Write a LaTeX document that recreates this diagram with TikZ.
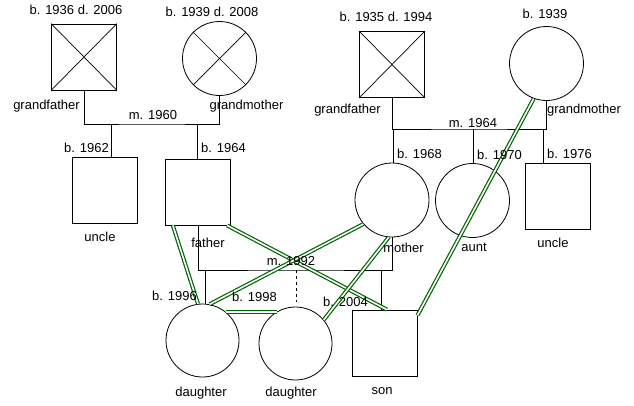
\documentclass[tikz,border=0pt]{standalone}
\usepackage{fontspec}
\setmainfont{Liberation Sans}
\usetikzlibrary{calc}
\definecolor{relgreen}{RGB}{0,100,0}
\begin{document}
\begin{tikzpicture}[x=1pt,y=-1pt,
  male/.style={draw, rectangle, minimum width=65pt, minimum height=66pt, inner sep=0pt, line width=0.8pt},
  female/.style={draw, circle, minimum size=74pt, inner sep=0pt, line width=0.8pt},
  lbl/.style={font=\fontsize{13}{15}\selectfont, inner sep=0pt},
  kin/.style={draw=black, line width=0.8pt},
  xmark/.style={draw=black, line width=0.7pt},
  close/.style={draw=relgreen, line width=1.2pt, double=white, double distance=1.6pt}]
\fill[white] (0,0) rectangle (634,405);
\useasboundingbox (0,0) rectangle (634,405);

% persons
\node[male] (gf1) at (84,57) {};
\node[female] (gm1) at (219.5,58.5) {};
\node[male] (gf2) at (392,64.5) {};
\node[female] (gm2) at (546.5,63.5) {};
\node[male] (uncleA) at (104.5,190) {};
\node[male] (father) at (198,192) {};
\node[female] (mother) at (392,200) {};
\node[female] (aunt) at (472.5,200.5) {};
\node[male] (uncleB) at (558,196) {};
\node[female, minimum size=73pt] (d1) at (202.5,340.5) {};
\node[female, minimum size=73pt] (d2) at (295.5,343.5) {};
\node[male] (son) at (384.5,343) {};

% deceased crosses
\draw[xmark] (gf1.north west) -- (gf1.south east) (gf1.north east) -- (gf1.south west);
\draw[xmark] (gm1.north west) -- (gm1.south east) (gm1.north east) -- (gm1.south west);
\draw[xmark] (gf2.north west) -- (gf2.south east) (gf2.north east) -- (gf2.south west);

% marriage 1960
\coordinate (m1) at (152,124);
\draw[kin] (gf1.south) |- (m1) -| (gm1.south);
\coordinate (c1) at (111,124);
\coordinate (c2) at (197,124);
\draw[kin] (c1) -- (c1 |- uncleA.north);
\draw[kin] (c2) -- (c2 |- father.north);

% marriage 1964
\coordinate (m2) at (469,129);
\draw[kin] (gf2.south) |- (m2) -| (gm2.south);
\coordinate (c3) at (393,129);
\coordinate (c4) at (473,129);
\coordinate (c5) at (543,129);
\draw[kin] (c3) -- (c3 |- mother.north);
\draw[kin] (c4) -- (c4 |- aunt.north);
\draw[kin] (c5) -- (c5 |- uncleB.north);

% marriage 1992
\coordinate (m3) at (296,270);
\draw[kin] (father.south) |- (m3) -| (mother.south);
\coordinate (c6) at (205,270);
\coordinate (c7) at (296,270);
\coordinate (c7e) at (296,302);
\coordinate (c8) at (381,270);
\draw[kin] (c6) -- (c6 |- d1.north);
\draw[kin, dashed, dash pattern=on 3pt off 3pt] (c7) -- (c7e);
\draw[kin] (c8) -- (c8 |- son.north);

% close relationships
\draw[close] (gm2.250) -- (son.40);
\draw[close] (father.233) -- (d1.97);
\draw[close] (father.311) -- (son.86);
\draw[close] (mother.220) -- (d1.79);
\draw[close] (mother.265) -- (d2.40);
\draw[close] (d1.51) -- (d1.51 -| d2.120);

% labels
\node[lbl] (t1) at (76,10) {b. 1936 d. 2006};
\node[lbl] (t2) at (212,12) {b. 1939 d. 2008};
\node[lbl] (t3) at (46.5,106) {grandfather};
\node[lbl] (t4) at (246.5,106) {grandmother};
\node[lbl] (t5) at (153,115) {m. 1960};
\node[lbl] (t6) at (386,17) {b. 1935 d. 1994};
\node[lbl] (t7) at (545,14) {b. 1939};
\node[lbl] (t8) at (347.5,110) {grandfather};
\node[lbl] (t9) at (584,110) {grandmother};
\node[lbl] (t10) at (473,123) {m. 1964};
\node[lbl] (t11) at (86.5,148) {b. 1962};
\node[lbl] (t12) at (223.5,148) {b. 1964};
\node[lbl] (t13) at (100,237) {uncle};
\node[lbl] (t14) at (208,243) {father};
\node[lbl] (t15) at (419.5,154) {b. 1968};
\node[lbl] (t16) at (499.5,155) {b. 1970};
\node[lbl] (t17) at (569.5,154) {b. 1976};
\node[lbl] (t18) at (403.5,248) {mother};
\node[lbl] (t19) at (474,247) {aunt};
\node[lbl] (t20) at (553,243) {uncle};
\node[lbl] (t21) at (291,261) {m. 1992};
\node[lbl] (t22) at (174.5,296) {b. 1996};
\node[lbl] (t23) at (254.5,297) {b. 1998};
\node[lbl] (t24) at (345.5,302) {b. 2004};
\node[lbl] (t25) at (201,393) {daughter};
\node[lbl] (t26) at (291,393) {daughter};
\node[lbl] (t27) at (382,391) {son};
\end{tikzpicture}
\end{document}
